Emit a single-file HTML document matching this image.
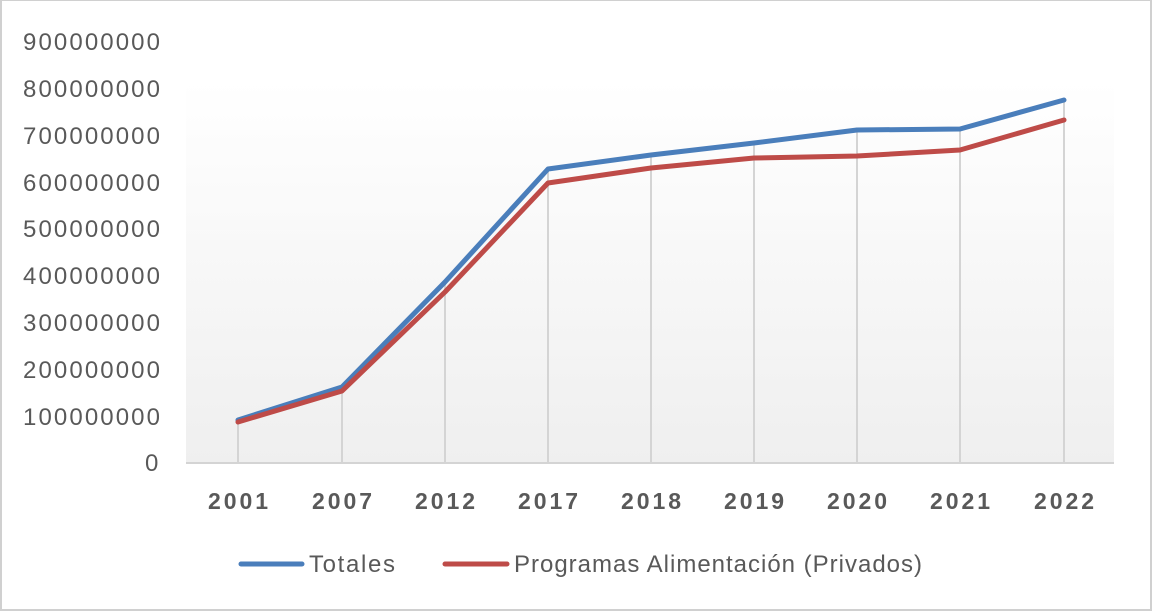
<!DOCTYPE html>
<html><head><style>
body{margin:0;background:#fff;}
svg{display:block;font-family:"Liberation Sans",sans-serif;}
</style></head><body>
<svg width="1152" height="612" viewBox="0 0 1152 612">
<defs><linearGradient id="g" x1="0" y1="0" x2="0" y2="1"><stop offset="0" stop-color="#ffffff"/><stop offset="1" stop-color="#efefef"/></linearGradient></defs>
<rect x="0" y="0" width="1152" height="612" fill="#fff"/>
<rect x="1" y="0" width="1150" height="610" fill="none" stroke="#d0d0d0" stroke-width="2"/>
<rect x="186" y="80" width="928" height="383" fill="url(#g)"/>
<g stroke="#d4d4d4" stroke-width="2">
<line x1="238" y1="420" x2="238" y2="463"/><line x1="342" y1="388" x2="342" y2="463"/>
<line x1="445" y1="282" x2="445" y2="463"/><line x1="548" y1="169" x2="548" y2="463"/>
<line x1="651" y1="155" x2="651" y2="463"/><line x1="754" y1="143" x2="754" y2="463"/>
<line x1="857" y1="130" x2="857" y2="463"/><line x1="960" y1="129" x2="960" y2="463"/>
<line x1="1064" y1="100" x2="1064" y2="463"/>
<line x1="186" y1="463" x2="1114" y2="463"/>
</g>
<g fill="#595959" font-size="24">
<text x="23" y="50" textLength="137">900000000</text><text x="23" y="97" textLength="137">800000000</text>
<text x="23" y="144" textLength="137">700000000</text><text x="23" y="191" textLength="137">600000000</text>
<text x="23" y="237" textLength="137">500000000</text><text x="23" y="284" textLength="137">400000000</text>
<text x="23" y="331" textLength="137">300000000</text><text x="23" y="378" textLength="137">200000000</text>
<text x="23" y="425" textLength="137">100000000</text><text x="145" y="471" textLength="15">0</text>
</g>
<g fill="#595959" font-size="23" font-weight="bold">
<text x="208" y="509" textLength="60">2001</text><text x="312" y="509" textLength="60">2007</text><text x="415" y="509" textLength="60">2012</text>
<text x="518" y="509" textLength="60">2017</text><text x="621" y="509" textLength="60">2018</text><text x="724" y="509" textLength="60">2019</text>
<text x="827" y="509" textLength="60">2020</text><text x="930" y="509" textLength="60">2021</text><text x="1034" y="509" textLength="60">2022</text>
</g>
<polyline fill="none" stroke="#4a7ebb" stroke-width="5" stroke-linejoin="round" stroke-linecap="round" points="238,420 342,387 445,282 548,169 651,155 754,143 857,130 960,129 1064,100"/>
<polyline fill="none" stroke="#be4b48" stroke-width="5" stroke-linejoin="round" stroke-linecap="round" points="238,422 342,391 445,292 548,183 651,168 754,158 857,156 960,150 1064,120"/>
<line x1="241" y1="564" x2="302" y2="564" stroke="#4a7ebb" stroke-width="5" stroke-linecap="round"/>
<line x1="445" y1="564" x2="507" y2="564" stroke="#be4b48" stroke-width="5" stroke-linecap="round"/>
<g fill="#595959" font-size="24">
<text x="309" y="572" textLength="86">Totales</text>
<text x="514" y="572" textLength="408">Programas Alimentación (Privados)</text>
</g>
</svg>
</body></html>
